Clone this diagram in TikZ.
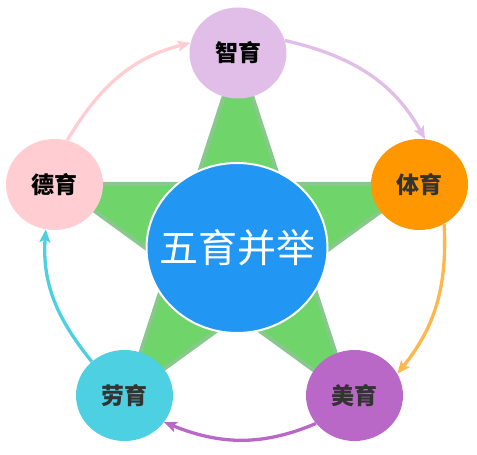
\documentclass[tikz,border=0pt]{standalone}
\usepackage{fontspec}
\newfontfamily\cjk{Noto Sans CJK SC}
\usetikzlibrary{arrows.meta,shapes.geometric,calc}

\definecolor{hubblue}{HTML}{2196F3}
\definecolor{stargreen}{HTML}{6FD46A}
\definecolor{staredge}{HTML}{86C98B}
\definecolor{zhicol}{HTML}{E1BEE7}
\definecolor{ticol}{HTML}{FF9800}
\definecolor{tiarrow}{HTML}{FFB74D}
\definecolor{meicol}{HTML}{BA68C8}
\definecolor{laocol}{HTML}{4DD0E1}
\definecolor{decol}{HTML}{FFCDD2}

\begin{document}
\begin{tikzpicture}[x=1pt,y=1pt,
      >={Stealth[length=13pt,width=11pt,inset=3pt]},
      petal/.style={ellipse,minimum width=97pt,minimum height=91pt,
        inner sep=0pt,font=\cjk\bfseries\fontsize{23}{26}\selectfont},
      hub/.style={ellipse,draw=white,line width=2pt,fill=hubblue,
        minimum width=181pt,minimum height=170pt,inner sep=0pt,
        text=white,font=\cjk\fontsize{39}{44}\selectfont},
      starfill/.style={fill=stargreen,draw=staredge,line width=4pt,
        line join=round},
      ring/.style={line width=3.3pt,->}
    ]
    \useasboundingbox (0,0) rectangle (477,455);
    \coordinate (O) at (238,212.4);
    % five-pointed star behind the hub
    \draw[starfill] ($(O)+(90:190)$)
      \foreach \k in {0,...,4} {
        -- ($(O)+({126+72*\k}:72.6)$) -- ($(O)+({162+72*\k}:190)$)}
      -- cycle;
    \node[hub] (hub) at (237,207) {\makebox[0pt]{五育并举}};
    \node[petal,fill=zhicol] (zhi) at (238,402) {智育};
    \node[petal,fill=ticol,text=black!80] (ti) at (419.5,270.5) {体育};
    \node[petal,fill=meicol,text=black!80] (mei) at (354.5,59.5) {美育};
    \node[petal,fill=laocol,text=black!80] (lao) at (124.5,59.5) {劳育};
    \node[petal,fill=decol] (de) at (54.5,270.5) {德育};
    % clockwise ring
    \draw[ring,draw=decol] (de.74) to[out=59,in=194] (zhi.168);
    \draw[ring,draw=zhicol] (zhi.15) to[out=-13,in=119] (ti.83);
    \draw[ring,draw=tiarrow] (ti.-58) to[out=-87,in=51] (mei.27);
    \draw[ring,draw=meicol] (mei.216) to[out=203,in=338] (lao.-34);
    \draw[ring,draw=laocol] (lao.134) to[out=129,in=266] (de.259);
  \end{tikzpicture}
\end{document}
